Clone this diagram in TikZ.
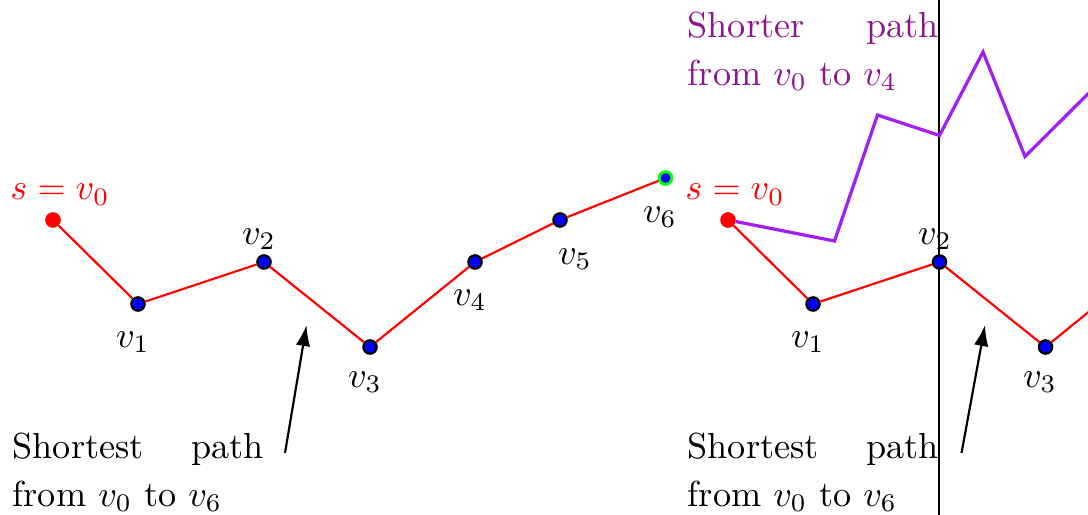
\documentclass[tikz,border=0pt]{standalone}
\usepackage{amsmath}
\usetikzlibrary{arrows.meta}

\definecolor{pathpurple}{RGB}{160,32,240}
\definecolor{textpurple}{RGB}{140,20,140}

\tikzset{
  vtx/.style={circle,fill=blue,draw=black,line width=0.6pt,inner sep=0pt,minimum size=3.7pt},
  src/.style={vtx,fill=red,draw=red},
  dst/.style={vtx,draw=green,line width=0.8pt,minimum size=3.5pt},
  lbl/.style={anchor=base,inner sep=0pt},
  sp/.style={red,semithick},
  caption/.style={anchor=north west,inner sep=0pt,text width=69.3pt,align=justify,
    font=\fontsize{10}{13.3}\selectfont},
  pointer/.style={semithick,-{Latex[length=5.8pt,width=4pt]}},
}

\begin{document}
\begin{tikzpicture}[x=0.2762pt,y=-0.2762pt]
\useasboundingbox (0,0) rectangle (1088,515);
\clip (0,0) rectangle (1088,515);

% left panel: the shortest path
\node[src] (v0) at (53,220) {};
\node[vtx] (v1) at (138,304) {};
\node[vtx] (v2) at (264,262) {};
\node[vtx] (v3) at (370,347) {};
\node[vtx] (v4) at (475,262) {};
\node[vtx] (v5) at (560,220) {};
\node[dst] (v6) at (665.5,178) {};
\draw[sp] (v0)--(v1)--(v2)--(v3)--(v4)--(v5)--(v6);

\node[lbl,red] (s0) at (60,200) {$s=v_0$};
\node[lbl] (l1) at (133,347) {$v_1$};
\node[lbl] (l2) at (259,244) {$v_2$};
\node[lbl] (l3) at (365,387) {$v_3$};
\node[lbl] (l4) at (470,305) {$v_4$};
\node[lbl] (l5) at (575,264) {$v_5$};
\node[lbl] (l6) at (660,222) {$v_6$};

\coordinate (a0) at (285,453);
\coordinate (a1) at (306.5,325);
\draw[pointer] (a0)--(a1);
\node[caption] (c0) at (12,432) {Shortest path from $v_0$ to $v_6$};

% right panel: a shorter path to v4
\coordinate (top) at (939,0);
\coordinate (bot) at (939,515);
\draw[line width=0.4pt] (top)--(bot);

\node[src] (r0) at (728,220) {};
\node[vtx] (r1) at (813,304) {};
\node[vtx] (r2) at (939.5,262) {};
\node[vtx] (r3) at (1045.5,347) {};
\coordinate (r4) at (1150,262);
\draw[sp] (r0)--(r1)--(r2)--(r3)--(r4);

\coordinate (p1) at (834.5,241);
\coordinate (p2) at (877.5,115);
\coordinate (p3) at (939.5,135.5);
\coordinate (p4) at (983,52);
\coordinate (p5) at (1025,156.5);
\coordinate (p6) at (1120,62);
\draw[pathpurple,line width=0.9pt] (r0)--(p1)--(p2)--(p3)--(p4)--(p5)--(p6);

\node[lbl,red] (s1) at (735,200) {$s=v_0$};
\node[lbl] (k1) at (808,347) {$v_1$};
\node[lbl] (k2) at (935,244) {$v_2$};
\node[lbl] (k3) at (1040,387) {$v_3$};

\coordinate (b0) at (961.5,453);
\coordinate (b1) at (985,325);
\draw[pointer] (b0)--(b1);
\node[caption] (c1) at (687,432) {Shortest path from $v_0$ to $v_6$};
\node[caption,textpurple] (c2) at (687,11) {Shorter path from $v_0$ to $v_4$};
\end{tikzpicture}
\end{document}
